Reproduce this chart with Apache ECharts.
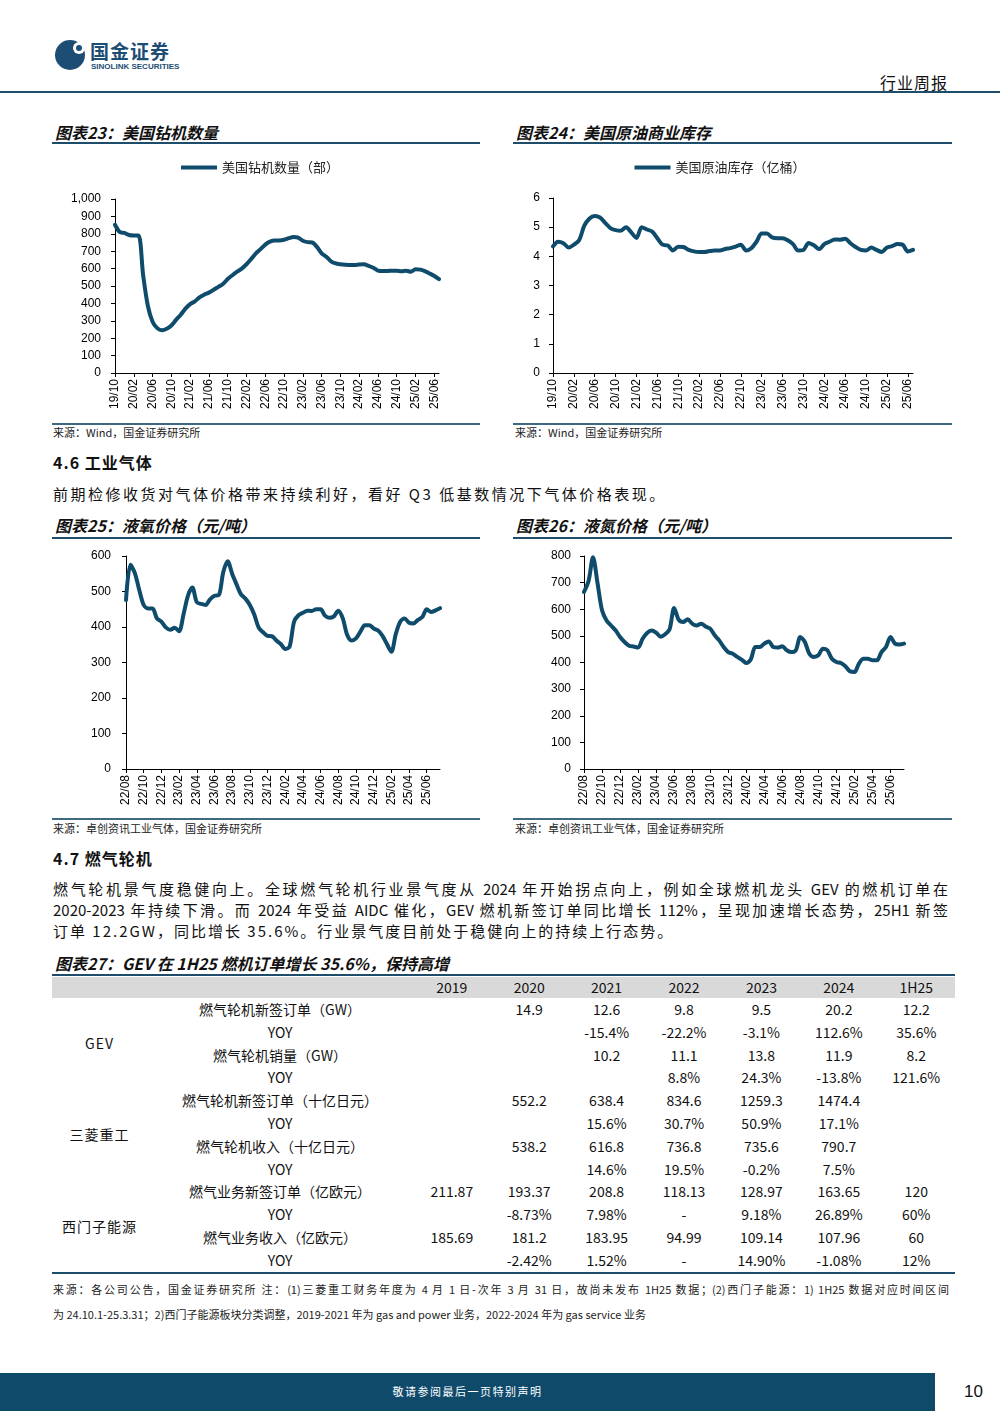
<!DOCTYPE html>
<html><head><meta charset="utf-8">
<script src="https://cdn.jsdelivr.net/npm/echarts@6/dist/echarts.min.js"></script>
<style>
body{margin:0;width:1000px;height:1414px;position:relative;background:#fff;font-family:"Noto Sans CJK SC","Noto Sans",sans-serif;color:#111;overflow:hidden}
.a{position:absolute;white-space:nowrap}
.hl{position:absolute;background:#1d4d6b}
.ttl{font-size:16px;font-weight:bold;font-style:italic;line-height:16px}
.src{font-size:11px;line-height:11px;color:#222}
.sec{font-size:16px;font-weight:bold;line-height:16px;letter-spacing:1px}
.p{font-size:15px;line-height:15px;letter-spacing:2.5px}
.j{text-align:justify;text-align-last:justify;letter-spacing:0}
table{border-collapse:collapse;table-layout:fixed;font-size:14px;color:#111}
td{text-align:center;padding:0;height:22.8px;line-height:22.8px;white-space:nowrap}
thead td{background:#d9d9d9;height:21px;line-height:21px}
</style></head><body>
<!-- header -->
<div class="a" style="left:55px;top:40px;width:30px;height:30px;border-radius:50%;background:#1e4d74"></div>
<div class="a" style="left:73px;top:42px;width:12px;height:12px;border-radius:50%;background:#fff"></div>
<div class="a" style="left:76px;top:45px;width:6px;height:6px;border-radius:50%;background:#1e4d74"></div>
<div class="a" style="left:90px;top:41px;font-size:19px;line-height:20px;font-weight:bold;color:#1e4d74;letter-spacing:1px">国金证券</div>
<div class="a" style="left:91px;top:62px;font-size:8px;line-height:9px;font-weight:bold;color:#1e4d74;font-family:'Liberation Sans',sans-serif">SINOLINK SECURITIES</div>
<div class="a" style="left:880px;top:74px;font-size:16px;line-height:17px;letter-spacing:1px">行业周报</div>
<div class="hl" style="left:0;top:91px;width:1000px;height:2px"></div>

<!-- chart titles row 1 -->
<div class="a ttl" style="left:55px;top:124px">图表23：美国钻机数量</div>
<div class="a ttl" style="left:516px;top:124px">图表24：美国原油商业库存</div>
<div class="hl" style="left:52px;top:142px;width:428px;height:2px"></div>
<div class="hl" style="left:513px;top:142px;width:439px;height:2px"></div>
<div id="c23" class="a" style="left:50px;top:150px;width:420px;height:270px"></div>
<div id="c24" class="a" style="left:510px;top:150px;width:420px;height:270px"></div>
<div class="hl" style="left:52px;top:423px;width:428px;height:1.5px;background:#3d6a80"></div>
<div class="hl" style="left:513px;top:423px;width:439px;height:1.5px;background:#3d6a80"></div>
<div class="a src" style="left:53px;top:427px">来源：Wind，国金证券研究所</div>
<div class="a src" style="left:515px;top:427px">来源：Wind，国金证券研究所</div>

<div class="a sec" style="left:53px;top:454px">4.6 工业气体</div>
<div class="a p" style="left:53px;top:486px">前期检修收货对气体价格带来持续利好，看好 Q3 低基数情况下气体价格表现。</div>

<div class="a ttl" style="left:55px;top:517px">图表25：液氧价格（元/吨）</div>
<div class="a ttl" style="left:516px;top:517px">图表26：液氮价格（元/吨）</div>
<div class="hl" style="left:52px;top:537px;width:428px;height:2px"></div>
<div class="hl" style="left:513px;top:537px;width:439px;height:2px"></div>
<div id="c25" class="a" style="left:50px;top:540px;width:420px;height:278px"></div>
<div id="c26" class="a" style="left:510px;top:540px;width:420px;height:278px"></div>
<div class="hl" style="left:52px;top:818px;width:428px;height:1.5px;background:#3d6a80"></div>
<div class="hl" style="left:513px;top:818px;width:439px;height:1.5px;background:#3d6a80"></div>
<div class="a src" style="left:53px;top:823px">来源：卓创资讯工业气体，国金证券研究所</div>
<div class="a src" style="left:515px;top:823px">来源：卓创资讯工业气体，国金证券研究所</div>

<div class="a sec" style="left:53px;top:850px">4.7 燃气轮机</div>
<div class="a p j" style="left:53px;top:881px;width:895px">燃气轮机景气度稳健向上。全球燃气轮机行业景气度从 2024 年开始拐点向上，例如全球燃机龙头 GEV 的燃机订单在</div>
<div class="a p j" style="left:53px;top:902px;width:895px">2020-2023 年持续下滑。而 2024 年受益 AIDC 催化，GEV 燃机新签订单同比增长 112%，呈现加速增长态势，25H1 新签</div>
<div class="a p" style="left:53px;top:923px;letter-spacing:2px">订单 12.2GW，同比增长 35.6%。行业景气度目前处于稳健向上的持续上行态势。</div>

<div class="a ttl" style="left:55px;top:955px">图表27：GEV 在 1H25 燃机订单增长 35.6%，保持高增</div>
<div class="hl" style="left:52px;top:974px;width:903px;height:2px"></div>
<table id="tbl" class="a" style="left:52px;top:977px;width:903px"></table>
<div class="hl" style="left:52px;top:1272px;width:903px;height:2px"></div>
<div class="a src j" style="left:53px;top:1284px;width:896px">来源：各公司公告，国金证券研究所 注：(1)三菱重工财务年度为 4 月 1 日-次年 3 月 31 日，故尚未发布 1H25 数据；(2)西门子能源：1) 1H25 数据对应时间区间</div>
<div class="a src" style="left:53px;top:1309px">为 24.10.1-25.3.31；2)西门子能源板块分类调整，2019-2021 年为 gas and power 业务，2022-2024 年为 gas service 业务</div>

<!-- footer -->
<div class="hl" style="left:0;top:1373px;width:935px;height:38px;background:#0f4a6b"></div>
<div class="a" style="left:0;top:1386px;width:935px;text-align:center;font-size:11px;line-height:11px;color:#fff;letter-spacing:1.5px">敬请参阅最后一页特别声明</div>
<div class="a" style="left:964px;top:1383px;font-size:17px;line-height:17px;font-family:'Liberation Sans',sans-serif">10</div>

<script>
// ---------- data ----------
// 图表23 美国钻机数量（部），月度 2019/10 - 2025/07
const rigCount = [
  852, 810, 805,
  793, 790, 790, 560, 385, 295, 258, 246, 254, 273, 305, 335,
  370, 396, 412, 435, 450, 462, 478, 495, 512, 540, 562, 582,
  600, 625, 655, 688, 712, 738, 755, 762, 762, 766, 775, 782,
  778, 760, 752, 750, 725, 688, 668, 642, 630, 625, 622, 620,
  620, 624, 625, 616, 605, 589, 586, 586, 588, 588, 585, 588,
  582, 596, 594, 585, 572, 558, 540
];
// 图表24 美国原油库存（亿桶），月度 2019/10 - 2025/07
const crudeStock = [
  4.34, 4.50, 4.45,
  4.30, 4.40, 4.55, 5.05, 5.30, 5.38, 5.33, 5.15, 4.97, 4.90, 4.88, 5.00,
  4.82, 4.63, 5.00, 4.92, 4.85, 4.62, 4.40, 4.37, 4.20, 4.33, 4.32, 4.22,
  4.17, 4.15, 4.15, 4.18, 4.20, 4.20, 4.25, 4.28, 4.33, 4.40, 4.20, 4.28,
  4.50, 4.78, 4.78, 4.65, 4.62, 4.62, 4.55, 4.42, 4.20, 4.22, 4.46, 4.38,
  4.25, 4.42, 4.50, 4.58, 4.57, 4.60, 4.45, 4.32, 4.22, 4.20, 4.30, 4.22,
  4.15, 4.30, 4.35, 4.42, 4.40, 4.17, 4.22
];
// 图表25 液氧价格（元/吨），半月 2022/08 - 2025/07
const loxPrice = [
  476, 575, 552, 504, 462, 452, 452, 424, 415, 399, 392, 398,
  388, 435, 488, 511, 470, 465, 462, 478, 488, 490, 555, 585,
  550, 520, 492, 480, 462, 435, 398, 385, 375, 374, 362, 352,
  338, 345, 415, 433, 440, 446, 445, 450, 450, 432, 426, 430,
  446, 425, 378, 362, 368, 387, 405, 405, 396, 390, 375, 352,
  330, 380, 415, 424, 412, 410, 420, 428, 450, 442, 447, 453
];
// 图表26 液氮价格（元/吨），半月 2022/08 - 2025/07
const linPrice = [
  665, 705, 795, 698, 596, 558, 539, 521, 496, 477, 463, 460,
  456, 489, 511, 520, 512, 497, 506, 525, 605, 561, 552, 562,
  546, 539, 546, 535, 527, 502, 483, 458, 439, 433, 421, 411,
  398, 411, 458, 458, 471, 479, 458, 456, 461, 446, 439, 446,
  496, 477, 433, 421, 427, 452, 446, 414, 402, 398, 386, 367,
  364, 396, 414, 414, 408, 408, 439, 458, 496, 471, 468, 471
];
// 图表27 表格
const tableYears = ['2019', '2020', '2021', '2022', '2023', '2024', '1H25'];
const tableCompanies = ['GEV', '三菱重工', '西门子能源'];
const tableItems = ['燃气轮机新签订单（GW）', 'YOY', '燃气轮机销量（GW）', 'YOY',
  '燃气轮机新签订单（十亿日元）', 'YOY', '燃气轮机收入（十亿日元）', 'YOY',
  '燃气业务新签订单（亿欧元）', 'YOY', '燃气业务收入（亿欧元）', 'YOY'];
const tableValues = [
  ['', '14.9', '12.6', '9.8', '9.5', '20.2', '12.2'],
  ['', '', '-15.4%', '-22.2%', '-3.1%', '112.6%', '35.6%'],
  ['', '', '10.2', '11.1', '13.8', '11.9', '8.2'],
  ['', '', '', '8.8%', '24.3%', '-13.8%', '121.6%'],
  ['', '552.2', '638.4', '834.6', '1259.3', '1474.4', ''],
  ['', '', '15.6%', '30.7%', '50.9%', '17.1%', ''],
  ['', '538.2', '616.8', '736.8', '735.6', '790.7', ''],
  ['', '', '14.6%', '19.5%', '-0.2%', '7.5%', ''],
  ['211.87', '193.37', '208.8', '118.13', '128.97', '163.65', '120'],
  ['', '-8.73%', '7.98%', '-', '9.18%', '26.89%', '60%'],
  ['185.69', '181.2', '183.95', '94.99', '109.14', '107.96', '60'],
  ['', '-2.42%', '1.52%', '-', '14.90%', '-1.08%', '12%']
];

// category labels (month strings)
function monthCats(y, m, n, perMonth) {
  const out = [];
  for (let i = 0; i < n; i++) {
    const k = Math.floor(i / perMonth);
    const mm = m - 1 + k;
    const yy = y + Math.floor(mm / 12);
    const s = String(yy % 100).padStart(2, '0') + '/' + String(mm % 12 + 1).padStart(2, '0');
    out.push(perMonth > 1 ? s + '-' + (i % perMonth + 1) : s);
  }
  return out;
}
const catsRig = monthCats(2019, 10, rigCount.length, 1);
const catsCrude = monthCats(2019, 10, crudeStock.length, 1);
const catsLox = monthCats(2022, 8, loxPrice.length, 2);
const catsLin = monthCats(2022, 8, linPrice.length, 2);

// ---------- charts ----------
const LINE = '#0f4c6c';
const AX = '#000';
function build(id, cats, vals, o) {
  const ch = echarts.init(document.getElementById(id), null, {renderer: 'canvas'});
  ch.setOption({
    animation: false,
    grid: o.grid,
    legend: o.legend ? {
      show: true, top: 6, left: 'center', icon: 'rect', itemWidth: 36, itemHeight: 4, itemGap: 4,
      textStyle: {fontSize: 13, color: '#222', fontFamily: 'Noto Sans CJK SC'}
    } : {show: false},
    xAxis: {
      type: 'category', data: cats, boundaryGap: false,
      axisLine: {lineStyle: {color: AX, width: 1}},
      axisTick: {show: true, interval: o.step - 1, length: 4, lineStyle: {color: AX}},
      axisLabel: {interval: o.step - 1, rotate: 90, fontSize: 12, color: AX, margin: 6,
        fontFamily: 'Liberation Sans', formatter: v => v.slice(0, 5)},
      splitLine: {show: false}
    },
    yAxis: {
      type: 'value', min: 0, max: o.max, interval: o.interval,
      axisLine: {show: true, lineStyle: {color: AX, width: 1}},
      axisTick: {show: true, length: 4, lineStyle: {color: AX}},
      axisLabel: {fontSize: 12, color: AX, margin: o.ym, fontFamily: 'Liberation Sans'},
      splitLine: {show: false}
    },
    series: [{
      type: 'line', name: o.name, data: vals, showSymbol: false, symbol: 'none',
      smooth: 0.3, lineStyle: {color: LINE, width: 4, cap: 'round', join: 'round'},
      itemStyle: {color: LINE}
    }]
  });
}
build('c23', catsRig, rigCount, {grid: {left: 65, top: 49, width: 324, height: 174}, max: 1000, interval: 100, step: 4, legend: true, ym: 14, name: '美国钻机数量（部）'});
build('c24', catsCrude, crudeStock, {grid: {left: 43, top: 48, width: 360, height: 175}, max: 6, interval: 1, step: 4, legend: true, ym: 13, name: '美国原油库存（亿桶）'});
build('c25', catsLox, loxPrice, {grid: {left: 76, top: 16, width: 314, height: 213}, max: 600, interval: 100, step: 4, legend: false, ym: 15, name: '液氧价格'});
build('c26', catsLin, linPrice, {grid: {left: 74, top: 16, width: 320, height: 213}, max: 800, interval: 100, step: 4, legend: false, ym: 13, name: '液氮价格'});

// ---------- table ----------
(function () {
  const t = document.getElementById('tbl');
  let h = '<colgroup><col style="width:95px"><col style="width:266px">';
  tableYears.forEach(() => h += '<col style="width:77.4px">');
  h += '</colgroup><thead><tr><td></td><td></td>';
  tableYears.forEach(y => h += '<td>' + y + '</td>');
  h += '</tr></thead><tbody>';
  tableItems.forEach((it, r) => {
    h += '<tr>';
    if (r % 4 === 0) h += '<td rowspan="4" style="letter-spacing:1px">' + tableCompanies[r / 4] + '</td>';
    h += '<td>' + it + '</td>';
    tableValues[r].forEach(v => h += '<td>' + v + '</td>');
    h += '</tr>';
  });
  h += '</tbody>';
  t.innerHTML = h;
})();
</script>
</body></html>
